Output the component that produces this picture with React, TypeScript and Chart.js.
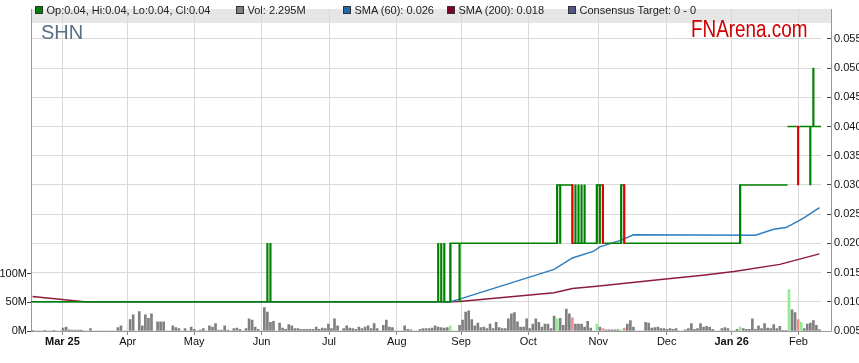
import React, { useEffect, useRef } from 'react';
import { Chart, registerables } from 'chart.js';
Chart.register(...registerables);

const FONT = '"Liberation Sans", Arial, Helvetica, sans-serif';

// ---- daily OHLC (AUD), trading-day index 0..258 ----
const priceOpen = [
  0.01,0.01,0.01,0.01,0.01,0.01,0.01,0.01,0.01,0.01,0.01,0.01,0.01,0.01,0.01,0.01,0.01,0.01,0.01,0.01,
  0.01,0.01,0.01,0.01,0.01,0.01,0.01,0.01,0.01,0.01,0.01,0.01,0.01,0.01,0.01,0.01,0.01,0.01,0.01,0.01,
  0.01,0.01,0.01,0.01,0.01,0.01,0.01,0.01,0.01,0.01,0.01,0.01,0.01,0.01,0.01,0.01,0.01,0.01,0.01,0.01,
  0.01,0.01,0.01,0.01,0.01,0.01,0.01,0.01,0.01,0.01,0.01,0.01,0.01,0.01,0.01,0.01,0.01,0.01,0.01,0.01,
  0.01,0.01,0.01,0.01,0.01,0.01,0.01,0.01,0.01,0.01,0.01,0.01,0.01,0.01,0.01,0.01,0.01,0.01,0.01,0.01,
  0.01,0.01,0.01,0.01,0.01,0.01,0.01,0.01,0.01,0.01,0.01,0.01,0.01,0.01,0.01,0.01,0.01,0.01,0.01,0.01,
  0.01,0.01,0.01,0.01,0.01,0.01,0.01,0.01,0.01,0.01,0.01,0.01,0.01,0.01,0.01,0.01,0.01,0.01,0.02,0.02,
  0.02,0.02,0.02,0.02,0.02,0.02,0.02,0.02,0.02,0.02,0.02,0.02,0.02,0.02,0.02,0.02,0.02,0.02,0.02,0.02,
  0.02,0.02,0.02,0.02,0.02,0.02,0.02,0.02,0.02,0.02,0.02,0.02,0.02,0.03,0.03,0.03,0.03,0.03,0.02,0.02,
  0.02,0.02,0.02,0.02,0.02,0.02,0.03,0.03,0.02,0.02,0.02,0.02,0.02,0.02,0.03,0.02,0.02,0.02,0.02,0.02,
  0.02,0.02,0.02,0.02,0.02,0.02,0.02,0.02,0.02,0.02,0.02,0.02,0.02,0.02,0.02,0.02,0.02,0.02,0.02,0.02,
  0.02,0.02,0.02,0.02,0.02,0.02,0.02,0.02,0.02,0.02,0.02,0.02,0.02,0.03,0.03,0.03,0.03,0.03,0.03,0.03,
  0.03,0.03,0.03,0.03,0.03,0.03,0.03,0.03,0.04,0.04,0.04,0.04,0.04,0.04,0.04,0.04,0.04,0.04,0.04,
];
const priceHigh = [
  0.01,0.01,0.01,0.01,0.01,0.01,0.01,0.01,0.01,0.01,0.01,0.01,0.01,0.01,0.01,0.01,0.01,0.01,0.01,0.01,
  0.01,0.01,0.01,0.01,0.01,0.01,0.01,0.01,0.01,0.01,0.01,0.01,0.01,0.01,0.01,0.01,0.01,0.01,0.01,0.01,
  0.01,0.01,0.01,0.01,0.01,0.01,0.01,0.01,0.01,0.01,0.01,0.01,0.01,0.01,0.01,0.01,0.01,0.01,0.01,0.01,
  0.01,0.01,0.01,0.01,0.01,0.01,0.01,0.01,0.01,0.01,0.01,0.01,0.01,0.01,0.01,0.01,0.01,0.02,0.02,0.01,
  0.01,0.01,0.01,0.01,0.01,0.01,0.01,0.01,0.01,0.01,0.01,0.01,0.01,0.01,0.01,0.01,0.01,0.01,0.01,0.01,
  0.01,0.01,0.01,0.01,0.01,0.01,0.01,0.01,0.01,0.01,0.01,0.01,0.01,0.01,0.01,0.01,0.01,0.01,0.01,0.01,
  0.01,0.01,0.01,0.01,0.01,0.01,0.01,0.01,0.01,0.01,0.01,0.01,0.01,0.02,0.02,0.02,0.01,0.02,0.02,0.02,
  0.02,0.02,0.02,0.02,0.02,0.02,0.02,0.02,0.02,0.02,0.02,0.02,0.02,0.02,0.02,0.02,0.02,0.02,0.02,0.02,
  0.02,0.02,0.02,0.02,0.02,0.02,0.02,0.02,0.02,0.02,0.02,0.02,0.03,0.03,0.03,0.03,0.03,0.03,0.03,0.03,
  0.03,0.03,0.02,0.02,0.02,0.03,0.03,0.03,0.02,0.02,0.02,0.02,0.02,0.03,0.03,0.02,0.02,0.02,0.02,0.02,
  0.02,0.02,0.02,0.02,0.02,0.02,0.02,0.02,0.02,0.02,0.02,0.02,0.02,0.02,0.02,0.02,0.02,0.02,0.02,0.02,
  0.02,0.02,0.02,0.02,0.02,0.02,0.02,0.02,0.02,0.02,0.02,0.02,0.03,0.03,0.03,0.03,0.03,0.03,0.03,0.03,
  0.03,0.03,0.03,0.03,0.03,0.03,0.03,0.03,0.04,0.04,0.04,0.04,0.04,0.04,0.04,0.04,0.05,0.04,0.04,
];
const priceLow = [
  0.01,0.01,0.01,0.01,0.01,0.01,0.01,0.01,0.01,0.01,0.01,0.01,0.01,0.01,0.01,0.01,0.01,0.01,0.01,0.01,
  0.01,0.01,0.01,0.01,0.01,0.01,0.01,0.01,0.01,0.01,0.01,0.01,0.01,0.01,0.01,0.01,0.01,0.01,0.01,0.01,
  0.01,0.01,0.01,0.01,0.01,0.01,0.01,0.01,0.01,0.01,0.01,0.01,0.01,0.01,0.01,0.01,0.01,0.01,0.01,0.01,
  0.01,0.01,0.01,0.01,0.01,0.01,0.01,0.01,0.01,0.01,0.01,0.01,0.01,0.01,0.01,0.01,0.01,0.01,0.01,0.01,
  0.01,0.01,0.01,0.01,0.01,0.01,0.01,0.01,0.01,0.01,0.01,0.01,0.01,0.01,0.01,0.01,0.01,0.01,0.01,0.01,
  0.01,0.01,0.01,0.01,0.01,0.01,0.01,0.01,0.01,0.01,0.01,0.01,0.01,0.01,0.01,0.01,0.01,0.01,0.01,0.01,
  0.01,0.01,0.01,0.01,0.01,0.01,0.01,0.01,0.01,0.01,0.01,0.01,0.01,0.01,0.01,0.01,0.01,0.01,0.02,0.02,
  0.01,0.02,0.02,0.02,0.02,0.02,0.02,0.02,0.02,0.02,0.02,0.02,0.02,0.02,0.02,0.02,0.02,0.02,0.02,0.02,
  0.02,0.02,0.02,0.02,0.02,0.02,0.02,0.02,0.02,0.02,0.02,0.02,0.02,0.02,0.03,0.03,0.03,0.02,0.02,0.02,
  0.02,0.02,0.02,0.02,0.02,0.02,0.02,0.02,0.02,0.02,0.02,0.02,0.02,0.02,0.02,0.02,0.02,0.02,0.02,0.02,
  0.02,0.02,0.02,0.02,0.02,0.02,0.02,0.02,0.02,0.02,0.02,0.02,0.02,0.02,0.02,0.02,0.02,0.02,0.02,0.02,
  0.02,0.02,0.02,0.02,0.02,0.02,0.02,0.02,0.02,0.02,0.02,0.02,0.02,0.03,0.03,0.03,0.03,0.03,0.03,0.03,
  0.03,0.03,0.03,0.03,0.03,0.03,0.03,0.03,0.04,0.04,0.04,0.03,0.04,0.04,0.04,0.03,0.04,0.04,0.04,
];
const priceClose = [
  0.01,0.01,0.01,0.01,0.01,0.01,0.01,0.01,0.01,0.01,0.01,0.01,0.01,0.01,0.01,0.01,0.01,0.01,0.01,0.01,
  0.01,0.01,0.01,0.01,0.01,0.01,0.01,0.01,0.01,0.01,0.01,0.01,0.01,0.01,0.01,0.01,0.01,0.01,0.01,0.01,
  0.01,0.01,0.01,0.01,0.01,0.01,0.01,0.01,0.01,0.01,0.01,0.01,0.01,0.01,0.01,0.01,0.01,0.01,0.01,0.01,
  0.01,0.01,0.01,0.01,0.01,0.01,0.01,0.01,0.01,0.01,0.01,0.01,0.01,0.01,0.01,0.01,0.01,0.01,0.01,0.01,
  0.01,0.01,0.01,0.01,0.01,0.01,0.01,0.01,0.01,0.01,0.01,0.01,0.01,0.01,0.01,0.01,0.01,0.01,0.01,0.01,
  0.01,0.01,0.01,0.01,0.01,0.01,0.01,0.01,0.01,0.01,0.01,0.01,0.01,0.01,0.01,0.01,0.01,0.01,0.01,0.01,
  0.01,0.01,0.01,0.01,0.01,0.01,0.01,0.01,0.01,0.01,0.01,0.01,0.01,0.01,0.01,0.01,0.01,0.02,0.02,0.02,
  0.02,0.02,0.02,0.02,0.02,0.02,0.02,0.02,0.02,0.02,0.02,0.02,0.02,0.02,0.02,0.02,0.02,0.02,0.02,0.02,
  0.02,0.02,0.02,0.02,0.02,0.02,0.02,0.02,0.02,0.02,0.02,0.02,0.03,0.03,0.03,0.03,0.03,0.02,0.02,0.02,
  0.02,0.02,0.02,0.02,0.02,0.03,0.03,0.02,0.02,0.02,0.02,0.02,0.02,0.03,0.02,0.02,0.02,0.02,0.02,0.02,
  0.02,0.02,0.02,0.02,0.02,0.02,0.02,0.02,0.02,0.02,0.02,0.02,0.02,0.02,0.02,0.02,0.02,0.02,0.02,0.02,
  0.02,0.02,0.02,0.02,0.02,0.02,0.02,0.02,0.02,0.02,0.02,0.02,0.03,0.03,0.03,0.03,0.03,0.03,0.03,0.03,
  0.03,0.03,0.03,0.03,0.03,0.03,0.03,0.03,0.04,0.04,0.04,0.0399,0.04,0.04,0.04,0.04,0.04,0.04,0.04,
];
// volume in millions of shares
const volumeM = [
  1,0,0,0,1,0,0,1,0,0,5,7,2,1.5,1.5,1.5,1.5,0,0,4,
  0,0,0,0,0,0,0,0,6,9,0,0,20,28,0,34,9,28,22,30,
  0,16,16,16,0,0,9,6,4,0,4,0,7,3,0,1.5,4,0,9,7,
  13,1.5,1.5,9,1.5,0,4,5,3,0,4,21,19,7,3,0,41,33,15,17,
  0,14,5,3,11,9,4,4,3,3,3,3,3,7,3,5,4,12,4,21,
  9,0,4,9,5,4,3,7,4,7,9,4,13,4,0,10,19,7,6,0,
  0,0,9,3,2,0,0,3,4,4,4,5,9,7,6,5,6,9,0,0,
  10,19,33,35,20,9,14,6,7,4,12,4,15,6,4,4,21,30,32,16,
  7,7,21,4,12,21,15,7,12,12,4,26,21,22,10,38,30,23,12,12,
  12,7,17,5,0,12,7,4,2,2,2,2,2,2,5,12,18,7,0,0,
  0,15,14,5,6,7,4,4,3,4,3,4,0,0,2,4,13,3,4,13,
  7,8,7,3,0,0,4,6,4,0,0,3,7,4,3,3,21,3,9,4,
  13,5,4,11,4,8,1,1,72,37,32,20,15,4,12,14,18,10,2.295,
];
// moving averages read at their turning points (day index, value)
const sma60Day = [0, 137, 140, 171, 177, 184, 186, 193, 197, 237, 243, 247, 251, 253, 258];
const sma60Val = [0.01, 0.01, 0.01045, 0.01555, 0.0175, 0.01867, 0.0194, 0.02055, 0.02145, 0.0214, 0.0224, 0.0227, 0.0238, 0.0244, 0.0261];
const sma200Day = [0, 17, 137, 140, 171, 177, 185, 206, 219, 230, 245, 258];
const sma200Val = [0.0109, 0.01, 0.01, 0.01005, 0.01155, 0.01228, 0.01267, 0.0138, 0.0145, 0.0152, 0.0164, 0.0182];

// axes
const monthTicks = [9.8, 31.2, 53, 75.1, 97.2, 119.4, 140.5, 162.5, 185.5, 207.9, 229.2, 251.1];
const monthLabels = ['Mar 25', 'Apr', 'May', 'Jun', 'Jul', 'Aug', 'Sep', 'Oct', 'Nov', 'Dec', 'Jan 26', 'Feb'];
const priceTicks = [0.005, 0.01, 0.015, 0.02, 0.025, 0.03, 0.035, 0.04, 0.045, 0.05, 0.055];
const volTicks = [0, 50, 100];

const GREEN = '#008000';
const RED = '#e00000';
const BLUE = '#2e7dbf';
const MAROON = '#8c1c3c';
const VGRAY = '#808080';
const VGREEN = '#90ee90';
const VRED = '#f08c8c';
const GRID = '#d9d9d9';

Chart.defaults.font.family = FONT;
Chart.defaults.color = '#111';

export default function App() {
  const ref = useRef<HTMLCanvasElement>(null);

  useEffect(() => {
    const N = priceClose.length;
    const ohlcColor = priceClose.map((c, i) => (c >= priceOpen[i] ? GREEN : RED));
    const volColor = volumeM.map((_, i) =>
      i === 0 ? VGRAY : priceClose[i] > priceClose[i - 1] ? VGREEN : priceClose[i] < priceClose[i - 1] ? VRED : VGRAY
    );

    // open tick (left) and close tick (right) of each bar, as one polyline broken only at price gaps
    const tickPts: any[] = [];
    const tickDayOf: number[] = [];
    for (let i = 0; i < N; i++) {
      if (i > 0 && priceOpen[i] !== priceClose[i - 1]) {
        tickPts.push({ x: i - 0.5, y: null });
        tickDayOf.push(i);
      }
      tickPts.push(
        { x: i - 0.5, y: priceOpen[i] },
        { x: i, y: priceOpen[i] },
        { x: i, y: priceClose[i] },
        { x: i + 0.5, y: priceClose[i] }
      );
      tickDayOf.push(i, i, i, i);
    }
    const rangeDays = priceHigh.map((h, i) => i).filter((i) => priceHigh[i] > priceLow[i]);

    const frame = {
      id: 'frame',
      beforeDraw(chart: any) {
        const { ctx, chartArea: a } = chart;
        ctx.save();
        ctx.fillStyle = '#e6e6e6';
        ctx.fillRect(a.left, Math.floor(a.top), a.right + 10 - a.left, 14);
        ctx.restore();
      },
      afterDraw(chart: any) {
        const { ctx, chartArea: a } = chart;
        ctx.save();
        ctx.strokeStyle = '#999';
        ctx.lineWidth = 1;
        const xr = Math.round(a.right + 10) + 0.5;
        const yb = Math.round(a.bottom) + 0.5;
        ctx.beginPath();
        ctx.moveTo(xr, Math.floor(a.top));
        ctx.lineTo(xr, yb);
        ctx.moveTo(a.right, yb);
        ctx.lineTo(xr, yb);
        ctx.stroke();
        ctx.restore();
      },
    };

    const chart = new Chart(ref.current as HTMLCanvasElement, {
      type: 'bar',
      data: {
        datasets: [
          {
            type: 'bar',
            label: 'range',
            yAxisID: 'y',
            order: 0,
            data: rangeDays.map((i) => ({ x: i, y: [priceLow[i], priceHigh[i]] })) as any,
            backgroundColor: rangeDays.map((i) => ohlcColor[i]),
            barThickness: 1.5,
            grouped: false,
            borderWidth: 0,
          } as any,
          {
            type: 'line',
            label: 'ticks',
            yAxisID: 'y',
            order: 0,
            data: tickPts,
            borderColor: GREEN,
            borderWidth: 1.5,
            pointRadius: 0,
            spanGaps: false,
            tension: 0,
            borderCapStyle: 'butt',
            borderJoinStyle: 'miter',
            segment: {
              borderColor: (ctx: any) => ohlcColor[tickDayOf[ctx.p0DataIndex]],
            },
          } as any,
          {
            type: 'line',
            label: 'SMA (60)',
            yAxisID: 'y',
            order: 1,
            data: sma60Day.map((d, k) => ({ x: d, y: sma60Val[k] })),
            borderColor: BLUE,
            borderWidth: 1.5,
            pointRadius: 0,
            tension: 0,
          } as any,
          {
            type: 'line',
            label: 'SMA (200)',
            yAxisID: 'y',
            order: 1,
            data: sma200Day.map((d, k) => ({ x: d, y: sma200Val[k] })),
            borderColor: MAROON,
            borderWidth: 1.5,
            pointRadius: 0,
            tension: 0,
          } as any,
          {
            type: 'bar',
            label: 'Vol',
            yAxisID: 'yv',
            order: 2,
            data: volumeM.map((v, i) => ({ x: i, y: v })),
            backgroundColor: volColor,
            barThickness: 2,
            grouped: false,
            borderWidth: 0,
          } as any,
        ],
      },
      options: {
        responsive: false,
        animation: false,
        events: [],
        layout: { padding: { top: 1, left: 0, right: 0, bottom: 0 } },
        plugins: { legend: { display: false }, tooltip: { enabled: false } },
        scales: {
          x: {
            type: 'linear',
            min: -0.5,
            max: priceClose.length - 0.5,
            offset: false,
            afterFit: (s: any) => {
              s.height = 32;
            },
            afterBuildTicks: (s: any) => {
              s.ticks = monthTicks.map((v) => ({ value: v }));
            },
            grid: { color: GRID, lineWidth: 1, tickLength: 4, tickColor: '#888', offset: false },
            border: { display: true, color: '#999' },
            ticks: {
              autoSkip: false,
              maxRotation: 0,
              minRotation: 0,
              padding: 0,
              color: '#111',
              callback: (v: any) => monthLabels[monthTicks.indexOf(Number(v))] ?? '',
              font: (ctx: any) => {
                const lbl = monthLabels[monthTicks.indexOf(ctx?.tick?.value)] || '';
                return { family: FONT, size: 11, weight: /\d/.test(lbl) ? 'bold' : 'normal' };
              },
            },
          } as any,
          y: {
            position: 'right',
            min: 0.005,
            max: 0.06,
            afterFit: (s: any) => {
              s.width = 38;
            },
            afterBuildTicks: (s: any) => {
              s.ticks = priceTicks.map((v) => ({ value: v }));
            },
            grid: { color: GRID, lineWidth: 1, tickLength: 10, tickColor: '#444', tickBorderDash: [0, 6, 4] },
            border: { display: false },
            ticks: {
              padding: 3,
              color: '#111',
              font: { family: FONT, size: 11 },
              callback: (v: any) => Number(v).toFixed(3),
            },
          } as any,
          yv: {
            position: 'left',
            min: 0,
            max: 560,
            afterFit: (s: any) => {
              s.width = 31;
            },
            afterBuildTicks: (s: any) => {
              s.ticks = volTicks.map((v) => ({ value: v }));
            },
            grid: { drawOnChartArea: false, tickLength: 4, tickColor: '#444' },
            border: { display: true, color: '#999' },
            ticks: {
              padding: 0,
              color: '#111',
              font: { family: FONT, size: 11 },
              callback: (v: any) => v + 'M',
            },
          } as any,
        },
      },
      plugins: [frame],
    } as any);
    return () => chart.destroy();
  }, []);

  const last = priceClose.length - 1;
  const legendTexts = [
    `Op:${priceOpen[last].toFixed(2)}, Hi:${priceHigh[last].toFixed(2)}, Lo:${priceLow[last].toFixed(2)}, Cl:${priceClose[last].toFixed(2)}`,
    `Vol: ${volumeM[last].toFixed(3)}M`,
    `SMA (60): ${sma60Val[sma60Val.length - 1].toFixed(3)}`,
    `SMA (200): ${sma200Val[sma200Val.length - 1].toFixed(3)}`,
    'Consensus Target: 0 - 0',
  ];
  const legendColors = [GREEN, VGRAY, '#1f6aa8', '#800025', '#55558a'];
  const legendX = [35, 236, 343, 447, 568];

  return (
    <div
      style={{
        position: 'fixed',
        left: 0,
        top: 0,
        width: 859,
        height: 363,
        overflow: 'hidden',
        background: '#fff',
        fontFamily: FONT,
      }}
    >
      <canvas ref={ref} width={859} height={363} style={{ position: 'absolute', left: 0, top: 0, display: 'block' }} />
      {legendTexts.map((t, k) => (
        <React.Fragment key={k}>
          <div
            style={{
              position: 'absolute',
              left: legendX[k],
              top: 6,
              width: 8,
              height: 8,
              boxSizing: 'border-box',
              border: '1px solid #333',
              background: legendColors[k],
            }}
          />
          <div
            style={{
              position: 'absolute',
              left: legendX[k] + 11.5,
              top: 4,
              fontSize: 11,
              lineHeight: '13px',
              color: '#222',
              whiteSpace: 'nowrap',
            }}
          >
            {t}
          </div>
        </React.Fragment>
      ))}
      <div
        style={{
          position: 'absolute',
          left: 41,
          top: 22,
          fontSize: 20,
          lineHeight: '20px',
          color: '#5a6e86',
          whiteSpace: 'nowrap',
        }}
      >
        SHN
      </div>
      <div
        style={{
          position: 'absolute',
          left: 691,
          top: 18,
          fontSize: 23,
          lineHeight: '23px',
          color: '#d00000',
          whiteSpace: 'nowrap',
          transform: 'scaleX(0.82)',
          transformOrigin: 'left top',
        }}
      >
        FNArena.com
      </div>
    </div>
  );
}
